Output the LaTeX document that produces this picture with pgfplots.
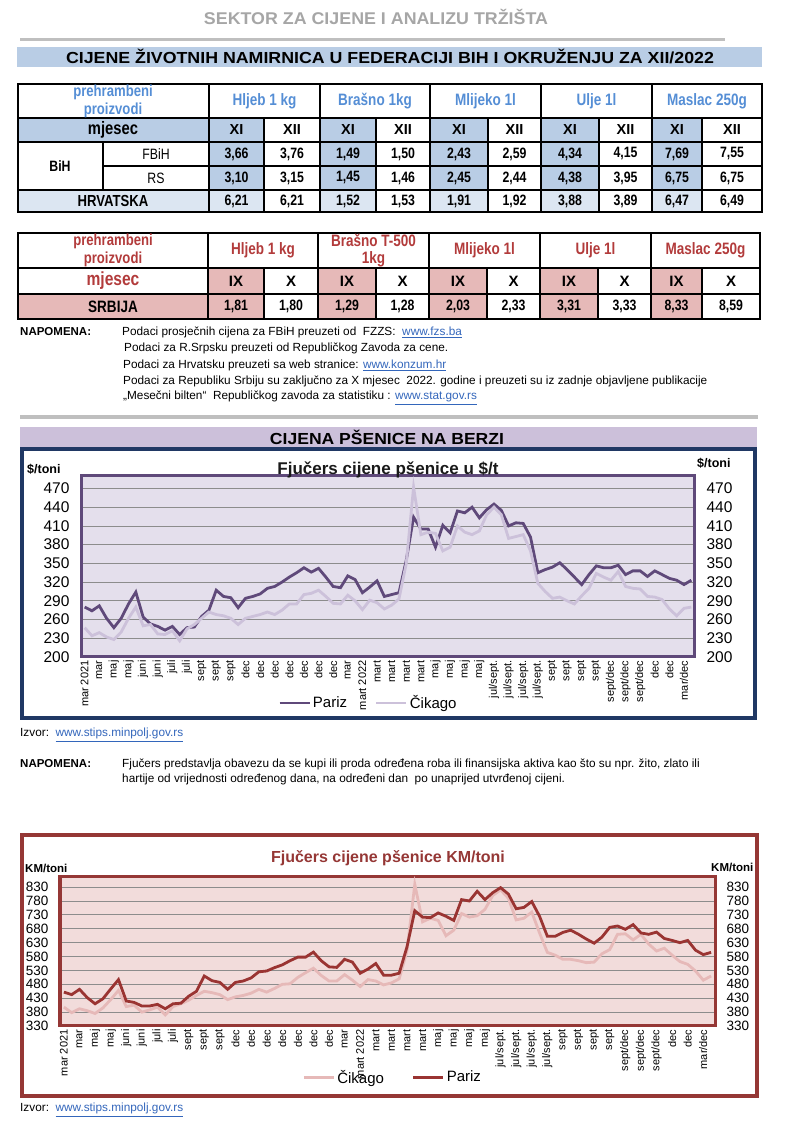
\documentclass[border=0pt]{standalone}
\usepackage{fontspec}
\setmainfont{Liberation Sans}
\newfontfamily\narrowf[FakeStretch=0.82]{Liberation Sans}
\usepackage{graphicx}
\usepackage{pgfplots}
\pgfplotsset{compat=1.18}
\usepackage{pgfplotstable}
\definecolor{graytitle}{HTML}{A6A6A6}
\definecolor{grayline}{HTML}{BFBFBF}
\definecolor{blueband}{HTML}{B9CDE5}
\definecolor{blue1}{HTML}{B9CDE5}
\definecolor{blue2}{HTML}{DCE6F2}
\definecolor{bluet}{HTML}{558ED5}
\definecolor{redt}{HTML}{B23B3B}
\definecolor{pink1}{HTML}{E6B9B8}
\definecolor{linkc}{HTML}{3366BB}
\definecolor{lavband}{HTML}{CCC0DA}
\definecolor{navy}{HTML}{203864}
\definecolor{plotbgA}{HTML}{E4DFEC}
\definecolor{borderA}{HTML}{5F497A}
\definecolor{parizA}{HTML}{5F497A}
\definecolor{cikA}{HTML}{CCC1DA}
\definecolor{frameB}{HTML}{953735}
\definecolor{plotbgB}{HTML}{F2DCDB}
\definecolor{parizB}{HTML}{9A3432}
\definecolor{cikB}{HTML}{E6B9B8}
\definecolor{gridc}{HTML}{8C8C8C}
\newcommand\fs[1]{\fontsize{#1}{#1}\selectfont}
\newcommand\fitw[2]{\resizebox{#1pt}{\height}{#2}}
\newcommand\lnk[1]{\textcolor{linkc}{\underline{#1}}}

\pgfplotstableread{
i P1 C1 P2 C2
0 280 247 452 398
1 274 234 443 378
2 282 239 462 392
3 262 232 432 385
4 247 228 410 375
5 262 240 428 395
6 285 262 463 425
7 304 280 497 458
8 264 250 420 400
9 253 252 415 405
10 249 237 402 380
11 243 236 402 388
12 249 242 408 398
13 236 226 392 370
14 247 245 410 400
15 248 252 412 410
16 265 262 437 423
17 275 272 455 440
18 307 268 510 455
19 297 266 493 450
20 295 262 487 443
21 279 252 462 425
22 294 262 487 435
23 297 265 492 440
24 301 268 503 448
25 310 272 525 462
26 313 268 528 452
27 320 275 540 465
28 328 285 550 480
29 335 285 565 482
30 343 300 578 505
31 336 302 578 522
32 342 307 596 538
33 328 297 565 512
34 313 286 543 492
35 311 285 541 492
36 330 299 570 515
37 324 290 560 495
38 303 276 520 472
39 312 291 535 497
40 322 287 555 492
41 297 277 513 478
42 300 283 513 485
43 303 293 520 500
44 355 350 615 600
45 424 472 745 840
46 405 396 722 705
47 405 400 720 718
48 376 398 737 710
49 411 370 725 655
50 399 376 710 675
51 434 410 785 735
52 431 400 780 722
53 440 396 815 727
54 423 402 785 750
55 436 428 810 800
56 445 440 828 820
57 435 428 805 790
58 410 390 752 712
59 415 393 757 718
60 414 396 778 740
61 392 370 725 665
62 335 318 653 595
63 340 305 653 585
64 344 294 667 570
65 351 296 675 570
66 340 290 660 565
67 328 285 643 558
68 316 298 628 560
69 332 310 650 590
70 346 334 685 605
71 343 328 690 660
72 343 323 678 662
73 347 337 695 640
74 332 313 665 660
75 338 310 660 625
76 338 309 668 600
77 329 297 645 610
78 338 296 638 585
79 332 292 630 562
80 326 277 638 552
81 323 266 603 528
82 316 278 587 495
83 323 280 595 510
}\wheat

\pgfplotsset{
  mylabels/.style={
    xtick={0,2,...,82},
    xticklabels={mar 2021,mar,maj,maj,juni,juni,juli,juli,sept,sept,sept,dec,dec,dec,dec,dec,dec,dec,mar,mart 2022,mart,mart,mart,mart,maj,maj,maj,maj,jul/sept.,jul/sept.,jul/sept.,jul/sept.,sept,sept,sept,sept,sept/dec,sept/dec,sept/dec,dec,dec,mar/dec},
    xticklabel style={font=\fs{11}, rotate=90, anchor=east},
  },
  legimg/.style={legend image code/.code={\draw[##1] (0pt,0pt) -- (30pt,0pt);}},
}

\begin{document}
\begin{tikzpicture}[x=1pt,y=1pt]
\path[use as bounding box] (0,0) rectangle (800,1133);

% ---------- header ----------
\node[text=graytitle, inner sep=0] at (376,1116) {\fitw{344}{\fs{17}\bfseries SEKTOR ZA CIJENE I ANALIZU TRŽIŠTA}};
\draw[line width=3pt, grayline] (20,1093) -- (725,1093);
\fill[blueband] (17,1066) rectangle (762,1086);
\node[inner sep=0] at (390,1076) {\fitw{648}{\fs{16}\bfseries CIJENE ŽIVOTNIH NAMIRNICA U FEDERACIJI BIH I OKRUŽENJU ZA XII/2022}};

% ---------- table 1 ----------
\fill[blue1] (18,991) rectangle (209,1015);
\foreach \a/\b in {209/264,320/376,430/488,541/599,652/702} {
  \fill[blue1] (\a,943) rectangle (\b,1015);
  \fill[blue2] (\a,921) rectangle (\b,943);
}
\fill[blue2] (18,921) rectangle (209,943);
\begin{scope}[line width=1.3pt]
\draw (18,1015) -- (762,1015);
\draw (18,991) -- (762,991);
\draw (103,967) -- (762,967);
\draw (18,943) -- (762,943);
\foreach \a in {209,320,430,541,652} \draw (\a,921) -- (\a,1049);
\foreach \a in {264,376,488,599,702} \draw (\a,921) -- (\a,1015);
\draw (103,943) -- (103,991);
\draw[line width=2pt] (18,921) rectangle (762,1049);
\end{scope}
\node[text=bluet, align=center, font=\narrowf\bfseries\fontsize{16}{18}\selectfont] at (113,1032) {prehrambeni\\proizvodi};
\foreach \x/\t in {264.5/{Hljeb 1 kg},375/{Brašno 1kg},485.5/{Mlijeko 1l},596.5/{Ulje 1l},707/{Maslac 250g}}
  \node[text=bluet, font=\narrowf\bfseries\fs{16.5}] at (\x,1032) {\t};
\node[font=\narrowf\bfseries\fs{18}] at (113,1003) {mjesec};
\foreach \x/\t in {236.5/XI,292/XII,348/XI,403/XII,459/XI,514.5/XII,570/XI,625.5/XII,677/XI,732/XII}
  \node[font=\bfseries\fs{14.5}] at (\x,1003) {\t};
\node[font=\narrowf\bfseries\fs{15}] at (60,967) {BiH};
\node[font=\narrowf\fs{15}] at (156,979) {FBiH};
\node[font=\narrowf\fs{15}] at (156,955) {RS};
\node[font=\narrowf\bfseries\fs{16}] at (113,932) {HRVATSKA};
\foreach \x/\v in {236.5/{3,66},292/{3,76},348/{1,49},403/{1,50},459/{2,43},514.5/{2,59},570/{4,34},625.5/{4,15},677/{7,69},732/{7,55}}
  \node[font=\narrowf\bfseries\fs{15}] at (\x,979) {\v};
\foreach \x/\v in {236.5/{3,10},292/{3,15},348/{1,45},403/{1,46},459/{2,45},514.5/{2,44},570/{4,38},625.5/{3,95},677/{6,75},732/{6,75}}
  \node[font=\narrowf\bfseries\fs{15}] at (\x,955) {\v};
\foreach \x/\v in {236.5/{6,21},292/{6,21},348/{1,52},403/{1,53},459/{1,91},514.5/{1,92},570/{3,88},625.5/{3,89},677/{6,47},732/{6,49}}
  \node[font=\narrowf\bfseries\fs{15}] at (\x,932) {\v};

% ---------- table 2 ----------
\foreach \a/\b in {208/264,318/376,429/487,540/598,651/702}
  \fill[pink1] (\a,814) rectangle (\b,865);
\fill[pink1] (18,814) rectangle (208,839);
\begin{scope}[line width=1.3pt]
\draw (18,865) -- (760,865);
\draw (18,839) -- (760,839);
\foreach \a in {208,318,429,540,651} \draw (\a,814) -- (\a,900);
\foreach \a in {264,376,487,598,702} \draw (\a,814) -- (\a,865);
\draw[line width=2pt] (18,814) rectangle (760,900);
\end{scope}
\node[text=redt, align=center, font=\narrowf\bfseries\fontsize{16}{18}\selectfont] at (113,882.5) {prehrambeni\\proizvodi};
\foreach \x/\t in {263/{Hljeb 1 kg},484.5/{Mlijeko  1l},595.5/{Ulje 1l},705.5/{Maslac 250g}}
  \node[text=redt, font=\narrowf\bfseries\fs{16.5}] at (\x,882.5) {\t};
\node[text=redt, align=center, font=\narrowf\bfseries\fontsize{16.5}{17}\selectfont] at (373.5,882.5) {Brašno T-500\\1kg};
\node[text=redt, font=\narrowf\bfseries\fs{19}] at (113,852) {mjesec};
\foreach \x/\t in {236/IX,291/X,347/IX,402.5/X,458/IX,513.5/X,569/IX,624.5/X,676.5/IX,731/X}
  \node[font=\bfseries\fs{15}] at (\x,852) {\t};
\node[font=\narrowf\bfseries\fs{16.5}] at (113,826.5) {SRBIJA};
\foreach \x/\v in {236/{1,81},291/{1,80},347/{1,29},402.5/{1,28},458/{2,03},513.5/{2,33},569/{3,31},624.5/{3,33},676.5/{8,33},731/{8,59}}
  \node[font=\narrowf\bfseries\fs{15}] at (\x,826.5) {\v};

% ---------- notes ----------
\node[anchor=base west, inner sep=0, font=\bfseries\fs{11.5}] at (20,797) {NAPOMENA:};
\node[anchor=base west, inner sep=0, font=\fs{11.8}] at (122,797) {Podaci prosječnih cijena za FBiH preuzeti od\ \ FZZS:\ \ \lnk{www.fzs.ba}};
\node[anchor=base west, inner sep=0, font=\fs{11.8}] at (124,781) {Podaci za R.Srpsku preuzeti od Republičkog Zavoda za cene.};
\node[anchor=base west, inner sep=0, font=\fs{11.8}] at (123,764) {Podaci za Hrvatsku preuzeti sa web stranice: \lnk{www.konzum.hr}};
\node[anchor=base west, inner sep=0, font=\fs{11.8}] at (123,748) {Podaci za Republiku Srbiju su zaključno za X mjesec\ \ 2022. godine i preuzeti su iz zadnje objavljene publikacije};
\node[anchor=base west, inner sep=0, font=\fs{11.8}] at (123,733) {„Mesečni bilten“\ \ Republičkog zavoda za statistiku : \lnk{www.stat.gov.rs}};

\draw[line width=4pt, grayline] (20,716) -- (758,716);
\fill[lavband] (20,686) rectangle (757,706);
\node[inner sep=0] at (387,696) {\fitw{234}{\fs{16}\bfseries CIJENA PŠENICE NA BERZI}};

% ---------- chart 1 ----------
\draw[navy, line width=3.5pt] (22,415) rectangle (755,684);
\begin{axis}[at={(81pt,476pt)}, anchor=south west, scale only axis,
  width=614pt, height=181pt,
  xmin=-0.5, xmax=83.5, ymin=200, ymax=490,
  ytick={200,230,...,470}, mylabels,
  major tick length=0pt,
  axis background/.style={fill=plotbgA},
  axis line style={draw=borderA, line width=3pt},
  ymajorgrids, major grid style={draw=gridc, line width=0.8pt},
  /pgf/number format/assume math mode=true,
  yticklabel style={font=\fs{15.5}, xshift=-8pt},
  legimg,
  legend style={draw=none, fill=none, font=\fs{15}, legend columns=2,
    /tikz/every even column/.append style={column sep=26pt},
    at={(0.468,-0.254)}, anchor=center},
]
\addplot[parizA, line width=2.8pt] table[x=i, y=P1] {\wheat};
\addlegendentry{Pariz}
\addplot[cikA, line width=2.8pt] table[x=i, y=C1] {\wheat};
\addlegendentry{Čikago}
\end{axis}
\begin{axis}[at={(81pt,476pt)}, anchor=south west, scale only axis,
  width=614pt, height=181pt,
  xmin=-0.5, xmax=83.5, ymin=200, ymax=490,
  ytick={200,230,...,470},
  axis y line*=right, axis x line=none,
  y axis line style={draw=none},
  major tick length=0pt,
  /pgf/number format/assume math mode=true,
  yticklabel style={font=\fs{15.5}, xshift=8pt},
]
\addplot[draw=none] coordinates {(0,300)};
\end{axis}
\node[anchor=base, inner sep=0, text=black!90] at (388,658) {\fs{17}\bfseries Fjučers cijene pšenice u \$/t};
\node[anchor=base west, inner sep=0] at (27,659) {\fs{12.5}\bfseries \$/toni};
\node[anchor=base west, inner sep=0] at (697,665) {\fs{12.5}\bfseries \$/toni};

\node[anchor=base west, inner sep=0, font=\fs{11.8}] at (20,396) {Izvor:\ \ \lnk{www.stips.minpolj.gov.rs}};
\node[anchor=base west, inner sep=0, font=\bfseries\fs{11.5}] at (20,365) {NAPOMENA:};
\node[anchor=base west, inner sep=0, font=\fs{11.8}] at (122,365) {Fjučers predstavlja obavezu da se kupi ili proda određena roba ili finansijska aktiva kao što su npr. žito, zlato ili};
\node[anchor=base west, inner sep=0, font=\fs{11.8}] at (122,350) {hartije od vrijednosti određenog dana, na određeni dan\ \ po unaprijed utvrđenoj cijeni.};

% ---------- chart 2 ----------
\draw[frameB, line width=4pt] (22,37) rectangle (757,298);
\begin{axis}[at={(60pt,107pt)}, anchor=south west, scale only axis,
  width=655pt, height=150pt,
  xmin=-0.5, xmax=83.5, ymin=330, ymax=870,
  ytick={330,380,...,830}, mylabels,
  major tick length=0pt,
  axis background/.style={fill=plotbgB},
  axis line style={draw=frameB, line width=3pt},
  ymajorgrids, major grid style={draw=gridc, line width=0.8pt},
  /pgf/number format/assume math mode=true,
  yticklabel style={font=\fs{13.5}, xshift=-8pt},
  legimg,
  legend style={draw=none, fill=none, font=\fs{15}, legend columns=2,
    /tikz/every even column/.append style={column sep=26pt},
    at={(0.508,-0.342)}, anchor=center},
]
\addplot[cikB, line width=2.8pt] table[x=i, y=C2] {\wheat};
\addlegendentry{Čikago}
\addplot[parizB, line width=2.8pt] table[x=i, y=P2] {\wheat};
\addlegendentry{Pariz}
\end{axis}
\begin{axis}[at={(60pt,107pt)}, anchor=south west, scale only axis,
  width=655pt, height=150pt,
  xmin=-0.5, xmax=83.5, ymin=330, ymax=870,
  ytick={330,380,...,830},
  axis y line*=right, axis x line=none,
  y axis line style={draw=none},
  major tick length=0pt,
  /pgf/number format/assume math mode=true,
  yticklabel style={font=\fs{13.5}, xshift=8pt},
]
\addplot[draw=none] coordinates {(0,500)};
\end{axis}
\node[anchor=base, inner sep=0, text=frameB] at (388,270) {\fs{16}\bfseries Fjučers cijene pšenice KM/toni};
\node[anchor=base west, inner sep=0] at (25,260) {\fs{11.5}\bfseries KM/toni};
\node[anchor=base west, inner sep=0] at (711,261) {\fs{11.5}\bfseries KM/toni};
\node[anchor=base west, inner sep=0, font=\fs{11.8}] at (20,21) {Izvor:\ \ \lnk{www.stips.minpolj.gov.rs}};
\end{tikzpicture}
\end{document}
